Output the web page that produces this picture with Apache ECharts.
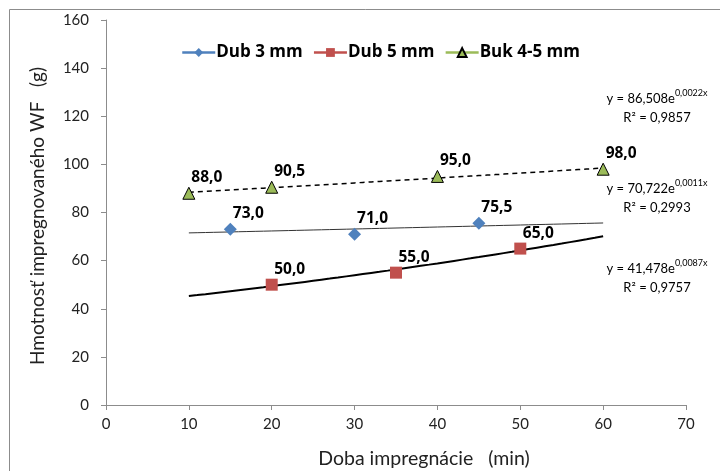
<!DOCTYPE html>
<html>
<head>
<meta charset="utf-8">
<script src="https://cdn.jsdelivr.net/npm/echarts@6/dist/echarts.min.js"></script>
<style>html,body{margin:0;padding:0;background:#fff}#c{width:720px;height:471px}</style>
</head>
<body>
<div id="c"></div>
<script>
// ---- data ----
var seriesNames = ['Dub 3 mm', 'Dub 5 mm', 'Buk 4-5 mm'];
var xDub3 = [15, 30, 45];
var yDub3 = [73.0, 71.0, 75.5];
var xDub5 = [20, 35, 50];
var yDub5 = [50.0, 55.0, 65.0];
var xBuk = [10, 20, 40, 60];
var yBuk = [88.0, 90.5, 95.0, 98.0];
var xTicks = [0, 10, 20, 30, 40, 50, 60, 70];
var yTicks = [0, 20, 40, 60, 80, 100, 120, 140, 160];
var trendRange = [10, 60];
var xTitle = 'Doba impregnácie   (min)';
var yTitle = 'Hmotnosť impregnovaného WF   (g)';

function pairs(xs, ys) { return xs.map(function (x, i) { return [x, ys[i]]; }); }
// exponential least-squares fit (as the spreadsheet trendline)
function expFit(xs, ys) {
  var n = xs.length, mx = 0, ml = 0;
  for (var i = 0; i < n; i++) { mx += xs[i]; ml += Math.log(ys[i]); }
  mx /= n; ml /= n;
  var sxy = 0, sxx = 0;
  for (i = 0; i < n; i++) { sxy += (xs[i] - mx) * (Math.log(ys[i]) - ml); sxx += (xs[i] - mx) * (xs[i] - mx); }
  var b = sxy / sxx, a = Math.exp(ml - b * mx);
  var ssr = 0, sst = 0;
  for (i = 0; i < n; i++) {
    var l = Math.log(ys[i]), p = Math.log(a) + b * xs[i];
    ssr += (l - p) * (l - p); sst += (l - ml) * (l - ml);
  }
  return { a: a, b: b, r2: 1 - ssr / sst };
}
function curve(fit) {
  var pts = [];
  for (var x = trendRange[0]; x <= trendRange[1]; x += 1) pts.push([x, fit.a * Math.exp(fit.b * x)]);
  return pts;
}
var fitDub3 = expFit(xDub3, yDub3);
var fitDub5 = expFit(xDub5, yDub5);
var fitBuk = expFit(xBuk, yBuk);

function cz(v, d) { return v.toFixed(d).replace('.', ','); }
function eqText(f) {
  return ['{m|y = ' + cz(f.a, 3) + 'e}{s|' + cz(f.b, 4) + 'x}', '{m|R² = ' + cz(f.r2, 4) + '}'].join('\n');
}

var FONT = 'Lato, "Open Sans", sans-serif';
var BFONT = '"Open Sans", Lato, sans-serif';
var colors = ['#4F81BD', '#C0504D', '#9BBB59'];

var labelOpt = {
  show: true, position: 'top', offset: [18, 4],
  formatter: function (p) { return cz(p.value[1], 1); },
  fontFamily: BFONT, fontWeight: 'bold', fontSize: 15.5, color: '#000'
};

var chart = echarts.init(document.getElementById('c'), null, { renderer: 'canvas' });
var eqRich = {
  m: { fontFamily: FONT, fontSize: 13, color: '#404040', lineHeight: 19 },
  s: { fontFamily: FONT, fontSize: 9, color: '#404040', verticalAlign: 'top', lineHeight: 19 }
};
chart.setOption({
  animation: false,
  backgroundColor: '#fff',
  grid: { left: 106, right: 34, top: 20, bottom: 66, containLabel: false },
  legend: {
    left: 176, top: 39, itemWidth: 33, itemHeight: 11, itemGap: 10,
    textStyle: { fontFamily: BFONT, fontWeight: 'bold', fontSize: 17, color: '#000', padding: [0, 0, 0, -4] },
    data: [
      { name: seriesNames[0], lineStyle: { opacity: 1, width: 2.5, color: colors[0] } },
      { name: seriesNames[1], lineStyle: { opacity: 1, width: 2.5, color: colors[1] } },
      { name: seriesNames[2], lineStyle: { opacity: 1, width: 2.5, color: colors[2] } }
    ]
  },
  xAxis: {
    type: 'value', min: xTicks[0], max: xTicks[xTicks.length - 1], interval: 10,
    axisLine: { lineStyle: { color: '#8c8c8c', width: 1 } },
    axisTick: { show: true, length: 5, lineStyle: { color: '#8c8c8c' } },
    axisLabel: { fontFamily: FONT, fontSize: 15, color: '#222', margin: 12 },
    splitLine: { show: false }
  },
  yAxis: {
    type: 'value', min: yTicks[0], max: yTicks[yTicks.length - 1], interval: 20,
    axisLine: { show: true, lineStyle: { color: '#8c8c8c', width: 1 } },
    axisTick: { show: true, length: 5, lineStyle: { color: '#8c8c8c' } },
    axisLabel: { fontFamily: FONT, fontSize: 15, color: '#222', margin: 17 },
    splitLine: { show: false }
  },
  series: [
    { name: 'trend3', type: 'line', data: curve(fitDub3), showSymbol: false, silent: true, z: 1,
      lineStyle: { color: '#333', width: 1 } },
    { name: 'trend5', type: 'line', data: curve(fitDub5), showSymbol: false, silent: true, z: 1,
      lineStyle: { color: '#000', width: 2 } },
    { name: 'trendB', type: 'line', data: curve(fitBuk), showSymbol: false, silent: true, z: 1,
      lineStyle: { color: '#000', width: 1.5, type: [5, 4] } },
    { name: seriesNames[0], type: 'line', data: pairs(xDub3, yDub3), symbol: 'diamond', symbolSize: 13,
      lineStyle: { opacity: 0, width: 0 }, itemStyle: { color: colors[0] }, label: labelOpt, z: 3 },
    { name: seriesNames[1], type: 'line', data: pairs(xDub5, yDub5), symbol: 'rect', symbolSize: 12,
      lineStyle: { opacity: 0, width: 0 }, itemStyle: { color: colors[1] }, label: labelOpt, z: 3 },
    { name: seriesNames[2], type: 'line', data: pairs(xBuk, yBuk), symbol: 'triangle', symbolSize: 12,
      lineStyle: { opacity: 0, width: 0 }, itemStyle: { color: colors[2], borderColor: '#000', borderWidth: 1 },
      label: labelOpt, z: 3 }
  ],
  graphic: [
    { type: 'rect', shape: { x: 9.5, y: 9.5, width: 740, height: 500 }, style: { fill: null, stroke: '#8c8c8c', lineWidth: 1 }, silent: true },
    { type: 'text', x: 657, y: 89, style: { text: eqText(fitBuk), rich: eqRich, align: 'center' } },
    { type: 'text', x: 657, y: 179, style: { text: eqText(fitDub3), rich: eqRich, align: 'center' } },
    { type: 'text', x: 657, y: 259, style: { text: eqText(fitDub5), rich: eqRich, align: 'center' } },
    { type: 'text', x: 424, y: 459, style: { text: xTitle, fontFamily: FONT, fontSize: 19.5, fill: '#222', align: 'center', verticalAlign: 'middle' } },
    { type: 'text', x: 38, y: 216, rotation: Math.PI / 2, style: { text: yTitle, fontFamily: FONT, fontSize: 19, fill: '#222', align: 'center', verticalAlign: 'middle' } }
  ]
});
</script>
</body>
</html>
